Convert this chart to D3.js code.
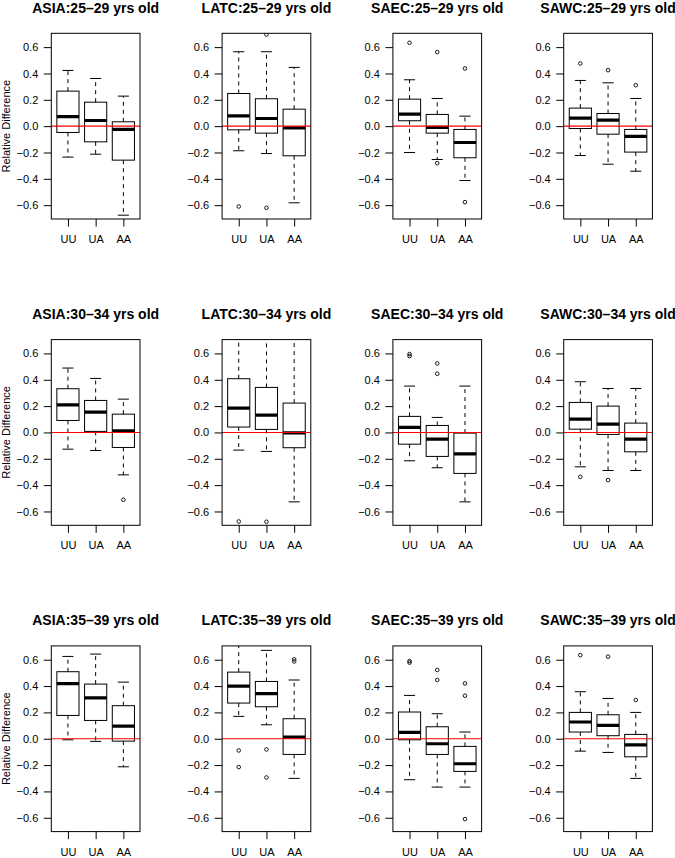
<!DOCTYPE html>
<html><head><meta charset="utf-8">
<script src="https://cdn.jsdelivr.net/npm/d3@7"></script>
<style>
html,body{margin:0;padding:0;background:#fff;}
text{font-family:"Liberation Sans",Arial,Helvetica,sans-serif;fill:#000;}
</style></head>
<body><svg id="c" width="675" height="858"></svg>
<script>
const regions = ["ASIA","LATC","SAEC","SAWC"];
const ages = ["25–29","30–34","35–39"];
const groups = ["UU","UA","AA"];
const yTicks = [-0.6,-0.4,-0.2,0,0.2,0.4,0.6];
const yLabel = "Relative Difference";

// indexed [age][region] -> [UU, UA, AA]
const whiskerLow = [
 [[-0.235,-0.213,-0.676],[-0.187,-0.208,-0.582],[-0.200,-0.253,-0.413],[-0.223,-0.289,-0.342]],
 [[-0.127,-0.137,-0.322],[-0.134,-0.144,-0.527],[-0.215,-0.268,-0.527],[-0.261,-0.289,-0.289]],
 [[-0.008,-0.020,-0.213],[0.170,0.106,-0.301],[-0.311,-0.367,-0.367],[-0.094,-0.104,-0.301]]
];
const q1 = [
 [[-0.048,-0.119,-0.258],[-0.028,-0.053,-0.225],[0.041,-0.053,-0.240],[-0.018,-0.061,-0.197]],
 [[0.091,0.008,-0.114],[0.041,0.023,-0.116],[-0.089,-0.182,-0.311],[0.025,-0.015,-0.147]],
 [[0.177,0.139,-0.018],[0.271,0.243,-0.119],[-0.008,-0.119,-0.248],[0.051,0.023,-0.137]]
];
const median = [
 [[0.073,0.043,-0.025],[0.078,0.058,-0.013],[0.091,-0.010,-0.124],[0.061,0.046,-0.078]],
 [[0.210,0.154,0.013],[0.185,0.132,-0.003],[0.038,-0.051,-0.162],[0.101,0.063,-0.051]],
 [[0.418,0.311,0.096],[0.400,0.342,0.013],[0.048,-0.038,-0.190],[0.127,0.101,-0.046]]
];
const q3 = [
 [[0.266,0.182,0.033],[0.248,0.208,0.129],[0.205,0.089,-0.025],[0.137,0.096,-0.025]],
 [[0.332,0.243,0.139],[0.408,0.342,0.223],[0.122,0.053,-0.005],[0.228,0.200,0.071]],
 [[0.509,0.415,0.251],[0.506,0.435,0.152],[0.203,0.091,-0.058],[0.200,0.182,0.033]]
];
const whiskerHigh = [
 [[0.423,0.362,0.228],[0.565,0.565,0.446],[0.352,0.210,0.076],[0.347,0.329,0.210]],
 [[0.489,0.410,0.253],[0.80,0.78,0.76],[0.352,0.114,0.352],[0.385,0.334,0.334]],
 [[0.625,0.643,0.430],[0.75,0.671,0.446],[0.329,0.190,0.051],[0.357,0.306,0.200]]
];
const outliers = [
 [[[],[],[]],[[-0.61],[0.696,-0.62],[]],[[0.633],[0.562,-0.281],[0.438,-0.577]],[[0.476],[0.425],[0.311]]],
 [[[],[],[-0.511]],[[-0.676],[-0.678],[]],[[0.595,0.58],[0.524,0.446],[]],[[-0.337],[-0.362],[]]],
 [[[],[],[]],[[-0.089,-0.215],[-0.081,-0.294],[0.603,0.587]],[[0.59,0.578],[0.522,0.446],[0.42,0.327,-0.61]],[[0.635],[0.623],[0.294]]]
];

const svg = d3.select("#c");
const L0 = 51.3, colStep = 170.8, W = 88.7, T0 = 33.3, rowStep = 306.3, H = 185.7;
const tick = 7.5;

ages.forEach((age, r) => {
  regions.forEach((reg, c) => {
    const left = L0 + c*colStep, top = T0 + r*rowStep;
    const g = svg.append("g").attr("transform", `translate(${left},${top})`);
    const y = d3.scaleLinear().domain([-0.705, 0.705]).range([H, 0]);
    const x = d3.scalePoint().domain(groups).range([0, W]).padding(0.6);
    const bw = x.step()*0.8;
    const clipId = `clip-${r}-${c}`;
    g.append("clipPath").attr("id", clipId).append("rect")
      .attr("x",0).attr("y",0).attr("width",W).attr("height",H);
    const plot = g.append("g").attr("clip-path", `url(#${clipId})`);

    groups.forEach((grp, k) => {
      const cx = x(grp);
      const lo = whiskerLow[r][c][k], a = q1[r][c][k], m = median[r][c][k],
            b = q3[r][c][k], hi = whiskerHigh[r][c][k];
      // whiskers
      plot.append("line").attr("x1",cx).attr("x2",cx).attr("y1",y(b)).attr("y2",y(hi))
        .attr("stroke","#000").attr("stroke-width",1).attr("stroke-dasharray","4,4");
      plot.append("line").attr("x1",cx).attr("x2",cx).attr("y1",y(a)).attr("y2",y(lo))
        .attr("stroke","#000").attr("stroke-width",1).attr("stroke-dasharray","4,4");
      // staples
      [lo, hi].forEach(v => plot.append("line")
        .attr("x1",cx-bw/4).attr("x2",cx+bw/4).attr("y1",y(v)).attr("y2",y(v))
        .attr("stroke","#000").attr("stroke-width",1));
      // box
      plot.append("rect").attr("x",cx-bw/2).attr("width",bw)
        .attr("y",y(b)).attr("height",y(a)-y(b))
        .attr("fill","none").attr("stroke","#000").attr("stroke-width",1);
      // median
      plot.append("line").attr("x1",cx-bw/2).attr("x2",cx+bw/2).attr("y1",y(m)).attr("y2",y(m))
        .attr("stroke","#000").attr("stroke-width",3.2);
      // outliers
      outliers[r][c][k].forEach(v => plot.append("circle")
        .attr("cx",cx).attr("cy",y(v)).attr("r",1.8)
        .attr("fill","none").attr("stroke","#000").attr("stroke-width",0.9));
    });

    // red reference line
    plot.append("line").attr("x1",0).attr("x2",W).attr("y1",y(0)).attr("y2",y(0))
      .attr("stroke","#ff0000").attr("stroke-width",1.1);

    // axes
    const ya = g.append("g").call(d3.axisLeft(y).tickValues(yTicks).tickSize(tick).tickPadding(5.5)
      .tickFormat(d3.format(".1f")));
    ya.select(".domain").remove();
    ya.selectAll("text").attr("font-size",11).style("font-family",'"Liberation Sans",Arial,sans-serif').attr("fill","#000");
    ya.selectAll("line").attr("stroke","#000");

    const xa = g.append("g").attr("transform",`translate(0,${H})`)
      .call(d3.axisBottom(x).tickSize(tick).tickPadding(8.8));
    xa.select(".domain").remove();
    xa.selectAll("text").attr("font-size",11).style("font-family",'"Liberation Sans",Arial,sans-serif').attr("fill","#000");
    xa.selectAll("line").attr("stroke","#000");

    // frame
    g.append("rect").attr("x",0).attr("y",0).attr("width",W).attr("height",H)
      .attr("fill","none").attr("stroke","#000").attr("stroke-width",1);

    // title
    g.append("text").attr("x",W/2).attr("y",-20.5).attr("text-anchor","middle")
      .attr("font-size",14).attr("font-weight","bold")
      .text(`${reg}:${age} yrs old`);

    if (c === 0) {
      g.append("text").attr("transform",`translate(${-L0+9.7},${H/2}) rotate(-90)`)
        .attr("text-anchor","middle").attr("font-size",11).text(yLabel);
    }
  });
});
</script></body></html>
